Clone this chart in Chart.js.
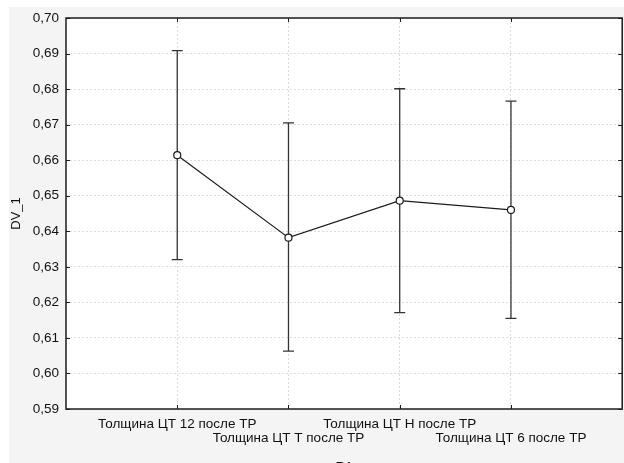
<!DOCTYPE html>
<html>
<head>
<meta charset="utf-8">
<script src="https://cdn.jsdelivr.net/npm/chart.js@4"></script>
<style>
  html, body { margin: 0; padding: 0; background: #fff; overflow: hidden; width: 624px; height: 463px; }
  #wrap { position: absolute; left: 9px; top: 7px; width: 615px; height: 475px; background: #f4f4f4; overflow: hidden; }
</style>
</head>
<body>
<div id="wrap"><canvas id="chart" width="620" height="475"></canvas></div>
<script>
// Means and confidence limits per group
const groups = ['Толщина ЦТ 12 после ТР', 'Толщина ЦТ Т после ТР', 'Толщина ЦТ Н после ТР', 'Толщина ЦТ 6 после ТР'];
const means = [0.6614, 0.6382, 0.6486, 0.6460];
const upper = [0.6908, 0.6705, 0.6801, 0.6766];
const lower = [0.6320, 0.6063, 0.6171, 0.6155];
const yTicks = [0.59, 0.60, 0.61, 0.62, 0.63, 0.64, 0.65, 0.66, 0.67, 0.68, 0.69, 0.70];
const xTitle = 'R1';
const yTitle = 'DV_1';

const INK = '#1c1c1c';
const FONT = "'Liberation Sans', Arial, sans-serif";

const whiskers = [];
groups.forEach((g, i) => {
    whiskers.push({ x: i + 1, y: lower[i] }, { x: i + 1, y: upper[i] }, { x: i + 1, y: null });
});
const caps = [];
groups.forEach((g, i) => {
    caps.push({ x: i + 1, y: lower[i] }, { x: i + 1, y: upper[i] });
});

// white plot area, frame round it and small inward tick marks
const framePlugin = {
    id: 'frame',
    beforeDraw(chart) {
        const { ctx, chartArea: a } = chart;
        ctx.save();
        ctx.fillStyle = '#fff';
        ctx.fillRect(a.left, a.top, a.right - a.left, a.bottom - a.top);
        ctx.restore();
    },
    beforeDatasetsDraw(chart) {
        const { ctx, chartArea: a, scales } = chart;
        ctx.save();
        ctx.strokeStyle = INK;
        ctx.lineWidth = 1.5;
        ctx.strokeRect(a.left, a.top, a.right - a.left, a.bottom - a.top);
        ctx.lineWidth = 1;
        ctx.beginPath();
        yTicks.forEach(v => {
            const y = Math.round(scales.y.getPixelForValue(v)) + 0.5;
            ctx.moveTo(a.left, y); ctx.lineTo(a.left + 4, y);
            ctx.moveTo(a.right, y); ctx.lineTo(a.right - 4, y);
        });
        groups.forEach((g, i) => {
            const x = Math.round(scales.x.getPixelForValue(i + 1)) + 0.5;
            ctx.moveTo(x, a.bottom); ctx.lineTo(x, a.bottom - 4);
            ctx.moveTo(x, a.top); ctx.lineTo(x, a.top + 4);
        });
        ctx.stroke();
        ctx.restore();
    }
};

new Chart(document.getElementById('chart'), {
    type: 'scatter',
    data: {
        datasets: [
            {
                data: means.map((m, i) => ({ x: i + 1, y: m })),
                showLine: true, borderColor: INK, borderWidth: 1.2,
                pointRadius: 3.5, pointBackgroundColor: '#fff', pointBorderColor: INK, pointBorderWidth: 1.2
            },
            {
                data: whiskers, showLine: true, spanGaps: false,
                borderColor: '#333', borderWidth: 1.3, pointRadius: 0
            },
            {
                data: caps, showLine: false, pointStyle: 'line',
                pointRadius: 5.5, borderColor: '#333', pointBorderWidth: 1.3
            }
        ]
    },
    options: {
        responsive: false, animation: false,
        layout: { padding: { top: 11, right: 0, left: 0, bottom: 0 } },
        plugins: { legend: { display: false }, tooltip: { enabled: false } },
        scales: {
            x: {
                type: 'linear', min: 0, max: 5,
                afterBuildTicks: s => { s.ticks = groups.map((g, i) => ({ value: i + 1 })); },
                afterFit: s => { s.height = 73; s.paddingLeft = 0; s.paddingRight = 0; },
                grid: { color: '#dcdcdc', drawTicks: false, lineWidth: 1 },
                border: { display: false, dash: [2, 2] },
                ticks: {
                    autoSkip: false, maxRotation: 0, minRotation: 0, padding: 8,
                    color: '#111', font: { family: FONT, size: 13.5, lineHeight: 1.05 },
                    callback: (v) => {
                        const i = Math.round(v) - 1;
                        if (i < 0 || i >= groups.length) return '';
                        return i % 2 === 1 ? ['', groups[i]] : groups[i];
                    }
                },
                title: { display: true, text: xTitle, color: '#111', font: { family: FONT, size: 13.5 }, padding: { top: 0, bottom: 7 } }
            },
            y: {
                min: 0.59, max: 0.70,
                afterBuildTicks: s => { s.ticks = yTicks.map(v => ({ value: v })); },
                afterFit: s => { s.width = 57; s.paddingTop = 0; s.paddingBottom = 0; },
                grid: { color: '#dcdcdc', drawTicks: false, lineWidth: 1 },
                border: { display: false, dash: [2, 2] },
                ticks: {
                    padding: 7, color: '#111', font: { family: FONT, size: 13.5 },
                    callback: v => v.toFixed(2).replace('.', ',')
                },
                title: { display: true, text: yTitle, color: '#111', font: { family: FONT, size: 13 }, padding: { top: 0, bottom: 6 } }
            }
        }
    },
    plugins: [framePlugin]
});
</script>
</body>
</html>
